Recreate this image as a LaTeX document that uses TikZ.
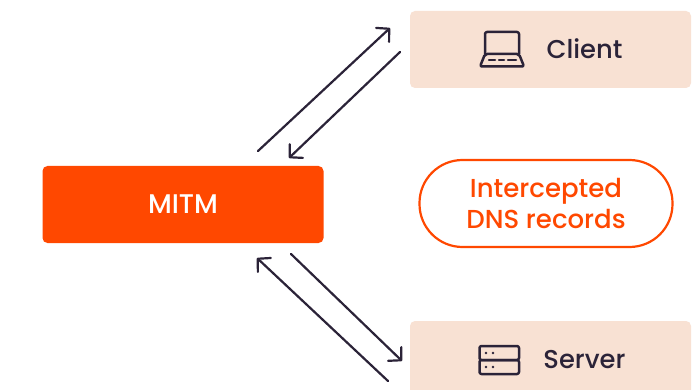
\documentclass[tikz,border=0pt]{standalone}
\usepackage{fontspec}
\setmainfont{Poppins Medium}
\usetikzlibrary{arrows.meta}
\definecolor{inkc}{HTML}{2B2338}
\definecolor{orangec}{HTML}{FF4800}
\definecolor{peachc}{HTML}{F8E1D3}
\tikzset{
  x=1pt,y=-1pt,
  peachbox/.style={fill=peachc,rounded corners=5pt},
  lab/.style={font=\fontsize{25.8}{29}\selectfont,inner sep=0pt,text=inkc},
  link/.style={draw=inkc,line width=2.2pt,line cap=round,-{Straight Barb[length=9pt,width=19pt,line cap=round,line join=round]}},
  icon/.style={draw=inkc,line width=2.5pt,line join=round,line cap=round,rounded corners=2pt},
}
\begin{document}
\begin{tikzpicture}
\useasboundingbox (0,0) rectangle (698,390);
\clip (0,0) rectangle (698,390);
\fill[white] (0,0) rectangle (698,390);
\node[peachbox,minimum width=281pt,minimum height=77pt,inner sep=0pt] (client) at (550.5,49.5) {};
\node[peachbox,minimum width=281pt,minimum height=77pt,inner sep=0pt] (server) at (550.5,359.5) {};
\node[fill=orangec,rounded corners=5pt,minimum width=281pt,minimum height=77pt,inner sep=0pt,text=white,font=\fontsize{27}{29}\selectfont] (mitm) at (183,204.5) {MITM};
\node[draw=orangec,line width=2.2pt,fill=white,rounded corners=43pt,minimum width=253pt,minimum height=87pt,inner sep=0pt,text=orangec,align=center,font=\fontsize{26}{30.5}\selectfont] (dns) at (546,203.5) {Intercepted\\DNS records};
\node[lab] (clientlab) at (584.5,49) {Client};
\node[lab] (serverlab) at (584.5,360) {Server};
% laptop icon
\draw[icon] (485,54) -- (485,32) -- (519,32) -- (519,54);
\draw[icon] (485,54) -- (519,54) -- (524,66.5) -- (480,66.5) -- cycle;
\draw[icon] (489,60) -- (495,60) (499,60) -- (504,60) (508,60) -- (516,60);
% server icon
\draw[icon] (479.5,346) rectangle (519,360);
\draw[icon] (479.5,360) rectangle (519,374);
\fill[inkc] (486,353) circle (1.4pt) (493,353) circle (1.4pt) (486,367) circle (1.4pt) (493,367) circle (1.4pt);
% arrows
\coordinate (a1) at (258,151); \coordinate (a2) at (390,28);
\coordinate (b1) at (400,52);  \coordinate (b2) at (289,158);
\coordinate (c1) at (291,254); \coordinate (c2) at (402,361);
\coordinate (d1) at (388,381); \coordinate (d2) at (257,258);
\draw[link] (a1) -- (a2);
\draw[link] (b1) -- (b2);
\draw[link] (c1) -- (c2);
\draw[link] (d1) -- (d2);
\end{tikzpicture}
\end{document}
